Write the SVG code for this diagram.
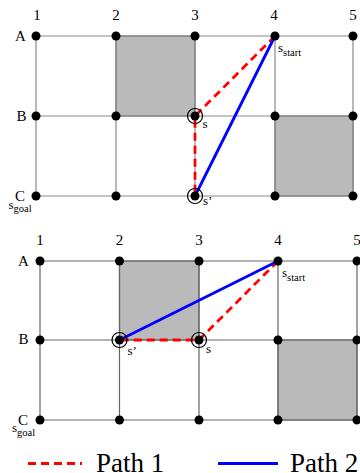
<svg xmlns="http://www.w3.org/2000/svg" width="360" height="473" viewBox="0 0 360 473">
<style>
text{font-family:"Liberation Serif","Times New Roman",serif;fill:#000}
.lab{font-size:15px}
.sm{font-size:13px}
.sub{font-size:10.5px}
.leg{font-size:27px}
.grid{stroke:#8a8a8a;stroke-width:1.2;fill:none}
.grid2{stroke:#666;stroke-width:1.2;fill:none}
.obs{fill:#bababa;stroke:#777;stroke-width:1.2}
.dot{fill:#000}
.ring{fill:none;stroke:#000;stroke-width:1.2}
.p1{stroke:#ff0000;stroke-width:2.8;stroke-dasharray:8 5;fill:none}
.p2{stroke:#0000ff;stroke-width:2.8;fill:none}
</style>
<defs>
<circle id="d" r="4.5" class="dot"/>
</defs>
<g id="grid-top">
<rect class="obs" x="116" y="36" width="79" height="80"/>
<rect class="obs" x="275" y="116" width="78" height="80"/>
<path class="grid" d="M36 36H353M36 116H353M36 196H353M36 36V196M116 36V196M195 36V196M275 36V196M353 36V196"/>
</g>
<g id="labels-top">
<text class="lab" x="37" y="20" text-anchor="middle">1</text>
<text class="lab" x="116" y="20" text-anchor="middle">2</text>
<text class="lab" x="195" y="20" text-anchor="middle">3</text>
<text class="lab" x="274" y="20" text-anchor="middle">4</text>
<text class="lab" x="353" y="20" text-anchor="middle">5</text>
<text class="lab" x="15" y="41">A</text>
<text class="lab" x="16.5" y="121">B</text>
<text class="lab" x="15" y="201">C</text>
<text x="8.5" y="208.5"><tspan class="sm">s</tspan><tspan class="sub" dy="3.5">goal</tspan></text>
<text x="278" y="52"><tspan class="sm">s</tspan><tspan class="sub" dy="3.5">start</tspan></text>
<text class="sm" x="202.5" y="128">s</text>
<text class="sm" x="203" y="205">s’</text>
</g>
<g id="connectors-top">
<path class="p1" d="M275 36L195 116L195 196"/>
<path class="p2" d="M275 36L195 196"/>
</g>
<g id="nodes-top">
<use href="#d" x="36" y="36"/><use href="#d" x="116" y="36"/><use href="#d" x="195" y="36"/><use href="#d" x="275" y="36"/><use href="#d" x="353" y="36"/>
<use href="#d" x="36" y="116"/><use href="#d" x="116" y="116"/><use href="#d" x="195" y="116"/><use href="#d" x="275" y="116"/><use href="#d" x="353" y="116"/>
<use href="#d" x="36" y="196"/><use href="#d" x="116" y="196"/><use href="#d" x="195" y="196"/><use href="#d" x="275" y="196"/><use href="#d" x="353" y="196"/>
<circle class="ring" cx="195" cy="116" r="7.5"/>
<circle class="ring" cx="195" cy="196" r="7.5"/>
</g>
<g id="grid-bottom">
<rect class="obs" x="119.5" y="261" width="79.5" height="79"/>
<rect class="obs" x="278" y="340" width="79" height="80"/>
<path class="grid2" d="M40 261H357M40 340H357M40 420H357M40 261V420M119.5 261V420M199 261V420M278 261V420M357 261V420"/>
</g>
<g id="labels-bottom">
<text class="lab" x="40" y="245" text-anchor="middle">1</text>
<text class="lab" x="119.5" y="245" text-anchor="middle">2</text>
<text class="lab" x="199" y="245" text-anchor="middle">3</text>
<text class="lab" x="278" y="245" text-anchor="middle">4</text>
<text class="lab" x="357" y="245" text-anchor="middle">5</text>
<text class="lab" x="18" y="265.5">A</text>
<text class="lab" x="18.5" y="344">B</text>
<text class="lab" x="18" y="425">C</text>
<text x="12" y="432"><tspan class="sm">s</tspan><tspan class="sub" dy="3.5">goal</tspan></text>
<text x="282" y="277"><tspan class="sm">s</tspan><tspan class="sub" dy="3.5">start</tspan></text>
<text class="sm" x="206" y="352.5">s</text>
<text class="sm" x="127.5" y="355">s’</text>
</g>
<g id="connectors-bottom">
<path class="p1" d="M278 261L199 340L119.5 340"/>
<path class="p2" d="M278 261L119.5 340"/>
</g>
<g id="nodes-bottom">
<use href="#d" x="40" y="261"/><use href="#d" x="119.5" y="261"/><use href="#d" x="199" y="261"/><use href="#d" x="278" y="261"/><use href="#d" x="357" y="261"/>
<use href="#d" x="40" y="340"/><use href="#d" x="119.5" y="340"/><use href="#d" x="199" y="340"/><use href="#d" x="278" y="340"/><use href="#d" x="357" y="340"/>
<use href="#d" x="40" y="420"/><use href="#d" x="119.5" y="420"/><use href="#d" x="199" y="420"/><use href="#d" x="278" y="420"/><use href="#d" x="357" y="420"/>
<circle class="ring" cx="199" cy="340" r="7.5"/>
<circle class="ring" cx="119.5" cy="340" r="7.5"/>
</g>
<g id="legend">
<line class="p1" x1="28" y1="463.5" x2="82" y2="463.5" stroke-dasharray="12 9"/>
<text class="leg" x="96" y="472">Path 1</text>
<line class="p2" x1="218" y1="463.5" x2="278" y2="463.5"/>
<text class="leg" x="290" y="472">Path 2</text>
</g>
</svg>
